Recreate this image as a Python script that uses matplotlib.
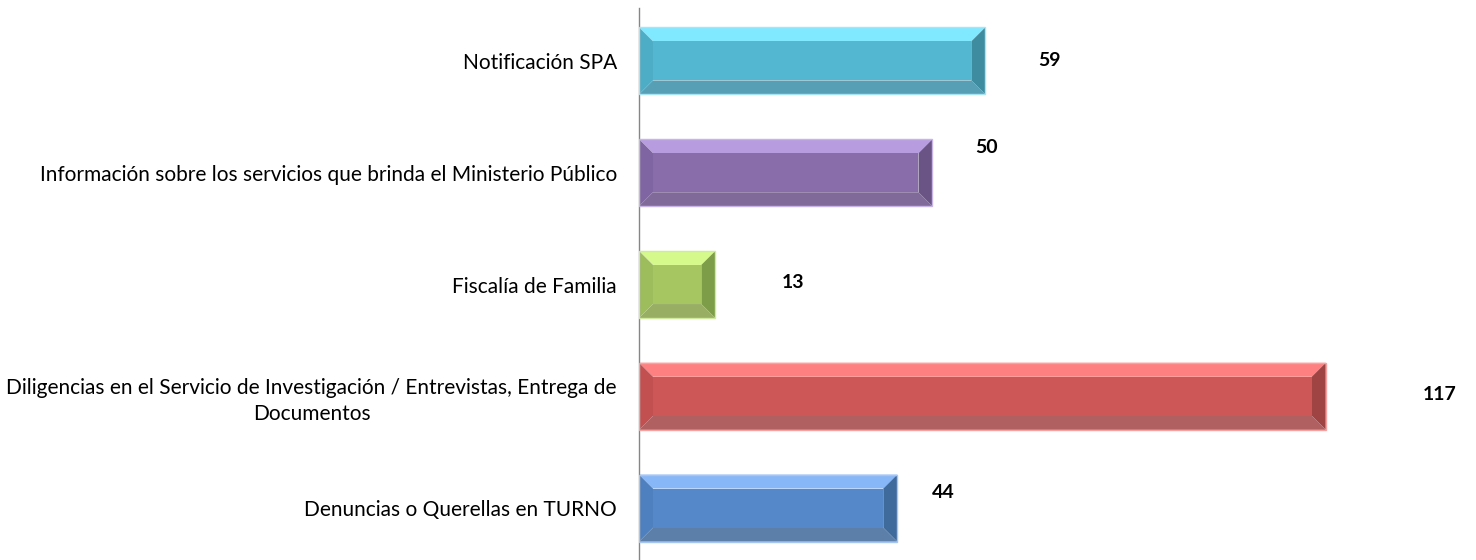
import matplotlib
matplotlib.use("Agg")
import matplotlib.pyplot as plt
from matplotlib.patches import Polygon

categories = [
    "Notificación SPA",
    "Información sobre los servicios que brinda el Ministerio Público",
    "Fiscalía de Familia",
    "Diligencias en el Servicio de Investigación / Entrevistas, Entrega de\nDocumentos",
    "Denuncias o Querellas en TURNO",
]
values = [59, 50, 13, 117, 44]

# style: face, top, bottom, left, right, edge
palettes = [
    ("#53B7D1", "#80E8FF", "#579FB5", "#4EADC6", "#3D8CA0", "#A9E4F5"),
    ("#886DAA", "#B79CDF", "#806A99", "#8065A3", "#6A5486", "#C7B5E6"),
    ("#A6C662", "#D6F98C", "#97AE63", "#9DBC5C", "#7E9D48", "#CFEA9E"),
    ("#CD5757", "#FF8080", "#B06060", "#C25050", "#A04343", "#F4A3A3"),
    ("#5588C8", "#87B7F7", "#5B7FA8", "#4E80C0", "#3F6A9C", "#A6C6F0"),
]
label_dx_px = [64, 54, 78, 114, 46]
label_dy_px = [0, 25, 2, 2, 16]

W, H, DPI = 14.76, 5.6, 100
fig = plt.figure(figsize=(W, H), dpi=DPI)
ax_left_px, ax_right_px = 639, 1476
ax_top_px, ax_bot_px = 8, 560
ax = fig.add_axes([ax_left_px / 1476, 1 - ax_bot_px / 560,
                   (ax_right_px - ax_left_px) / 1476, (ax_bot_px - ax_top_px) / 560])

xmax = 142.6
ax.set_xlim(0, xmax)
ax.set_ylim(4.464, -0.473)

px_per_x = (ax_right_px - ax_left_px) / xmax
px_per_y = (ax_bot_px - ax_top_px) / (4.464 + 0.473)
bev = 14
bx = bev / px_per_x
by = bev / px_per_y
h = 0.6

for i, (v, pal) in enumerate(zip(values, palettes)):
    face, top, bot, left, right, edge = pal
    y0, y1 = i - h / 2, i + h / 2  # y0 is visually top (inverted axis)
    x0, x1 = 0, v
    A = (x0, y0); B = (x1, y0); C = (x1, y1); D = (x0, y1)
    a = (x0 + bx, y0 + by); b = (x1 - bx, y0 + by); c = (x1 - bx, y1 - by); d = (x0 + bx, y1 - by)
    ax.add_patch(Polygon([A, B, b, a], closed=True, facecolor=top, edgecolor="none", zorder=2))
    ax.add_patch(Polygon([B, C, c, b], closed=True, facecolor=right, edgecolor="none", zorder=2))
    ax.add_patch(Polygon([C, D, d, c], closed=True, facecolor=bot, edgecolor="none", zorder=2))
    ax.add_patch(Polygon([D, A, a, d], closed=True, facecolor=left, edgecolor="none", zorder=2))
    ax.add_patch(Polygon([a, b, c, d], closed=True, facecolor=face, edgecolor="none", zorder=2))
    ax.add_patch(Polygon([A, B, C, D], closed=True, facecolor="none", edgecolor=edge, lw=1.0, zorder=3))
    ax.annotate(str(v), xy=(v, i), xytext=(label_dx_px[i] * 72 / DPI, label_dy_px[i] * 72 / DPI),
                textcoords="offset points", ha="center", va="center",
                fontsize=14, fontweight="bold", family="Lato", color="#000000")

ax.set_yticks(range(len(categories)))
ax.set_yticklabels(categories, fontsize=15, family="Lato", color="#000000",
                   multialignment="center", linespacing=1.35)
ax.tick_params(axis="y", length=0, pad=16)
ax.set_xticks([])
for s in ["top", "right", "bottom"]:
    ax.spines[s].set_visible(False)
ax.spines["left"].set_color("#868686")
ax.spines["left"].set_linewidth(1.0)

fig.savefig("out.png", dpi=DPI)
